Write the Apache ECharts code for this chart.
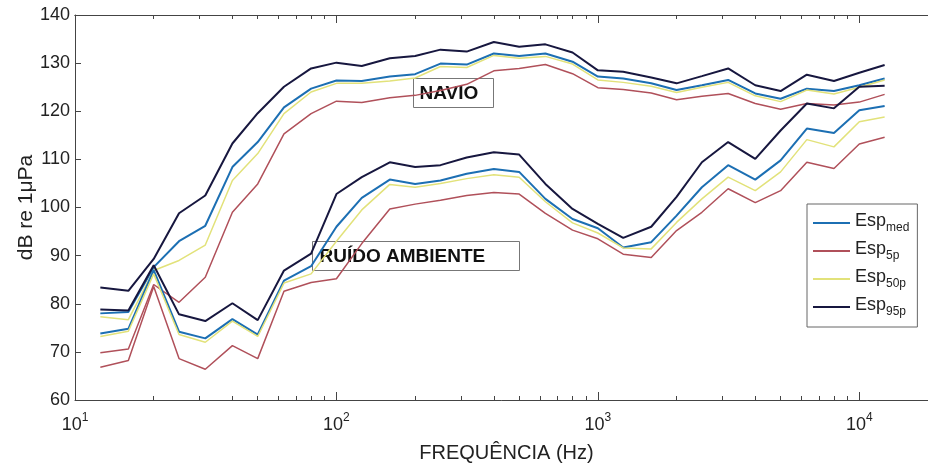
<!DOCTYPE html>
<html>
<head>
<meta charset="utf-8">
<script src="https://cdn.jsdelivr.net/npm/echarts@6/dist/echarts.min.js"></script>
<style>
  html, body { margin: 0; background: #fff; }
  #chart { width: 928px; height: 466px; }
</style>
</head>
<body>
<div id="chart"></div>
<script>
// bandas de 1/3 de oitava (Hz)
const freqs = [12.5, 16, 20, 25, 31.5, 40, 50, 63, 80, 100, 125, 160, 200, 250, 315, 400,
  500, 630, 800, 1000, 1250, 1600, 2000, 2500, 3150, 4000, 5000, 6300, 8000, 10000, 12500];

// NAVIO
const navioMed = [78.0, 78.3, 87.6, 93.0, 96.2, 108.4, 113.6, 120.8, 124.7, 126.4, 126.3, 127.2, 127.7, 129.9, 129.7, 132.0,
  131.5, 132.0, 130.3, 127.2, 126.8, 125.8, 124.4, 125.4, 126.5, 123.7, 122.6, 124.7, 124.2, 125.4, 126.8];
const navio5p = [69.8, 70.6, 84.0, 80.3, 85.5, 99.0, 104.9, 115.3, 119.5, 122.1, 121.8, 122.8, 123.3, 124.3, 125.6, 128.4,
  128.9, 129.7, 127.8, 124.9, 124.5, 123.8, 122.4, 123.1, 123.7, 121.6, 120.4, 121.6, 121.3, 121.9, 123.5];
const navio50p = [77.3, 76.7, 86.9, 89.0, 92.2, 105.6, 111.2, 119.5, 124.0, 125.8, 125.8, 126.3, 126.9, 129.3, 129.1, 131.6,
  131.0, 131.4, 129.8, 126.5, 126.0, 125.2, 123.9, 125.0, 126.0, 123.2, 122.0, 124.4, 123.6, 125.0, 126.5];
const navio95p = [83.4, 82.7, 89.3, 98.8, 102.5, 113.3, 119.6, 125.1, 128.9, 130.1, 129.4, 131.0, 131.5, 132.8, 132.4, 134.4,
  133.4, 133.9, 132.2, 128.5, 128.2, 127.0, 125.8, 127.3, 128.9, 125.4, 124.2, 127.6, 126.3, 128.0, 129.6];

// RUIDO AMBIENTE
const ambMed = [73.8, 74.8, 87.0, 74.2, 72.8, 76.8, 73.6, 84.8, 87.8, 96.0, 102.0, 105.8, 104.9, 105.6, 107.0, 108.0,
  107.4, 101.8, 97.6, 95.7, 91.7, 92.8, 98.3, 104.2, 108.8, 105.8, 109.8, 116.4, 115.5, 120.2, 121.1];
const amb5p = [66.8, 68.2, 83.6, 68.6, 66.4, 71.3, 68.6, 82.6, 84.4, 85.2, 92.5, 99.7, 100.7, 101.5, 102.5, 103.1,
  102.8, 98.8, 95.3, 93.5, 90.3, 89.6, 95.2, 99.0, 103.9, 101.0, 103.5, 109.4, 108.1, 113.2, 114.6];
const amb50p = [73.2, 74.3, 86.2, 73.6, 72.0, 76.4, 73.2, 84.3, 86.2, 93.0, 99.5, 104.8, 104.2, 105.0, 106.0, 106.8,
  106.3, 101.2, 96.8, 94.7, 91.6, 91.4, 96.9, 101.8, 106.3, 103.5, 107.4, 114.1, 112.6, 117.8, 118.8];
const amb95p = [78.8, 78.6, 88.0, 77.8, 76.4, 80.1, 76.6, 86.9, 90.4, 102.8, 106.3, 109.4, 108.4, 108.8, 110.4, 111.5,
  111.0, 104.9, 99.7, 96.6, 93.7, 96.0, 102.2, 109.4, 113.6, 110.1, 116.0, 121.6, 120.6, 125.1, 125.3];

// ticks
const majorTicks = [10, 100, 1000, 10000];
const minorTicks = [20, 30, 40, 50, 60, 70, 80, 90, 200, 300, 400, 500, 600, 700, 800, 900,
  2000, 3000, 4000, 5000, 6000, 7000, 8000, 9000, 20000];

const legendNames = ['med', '5p', '50p', '95p'];
const colors = { med: '#1c6fb3', '5p': '#b0505a', '50p': '#e2e27a', '95p': '#17173f' };
const widths = { med: 2, '5p': 1.5, '50p': 1.5, '95p': 2 };

const groups = [
  { med: navioMed, '5p': navio5p, '50p': navio50p, '95p': navio95p },
  { med: ambMed, '5p': amb5p, '50p': amb50p, '95p': amb95p }
];

const series = []
groups.forEach(g => {
  legendNames.forEach(name => {
    series.push({
      name,
      type: 'line',
      xAxisIndex: 0,
      symbol: 'none',
      data: freqs.map((f, i) => [f, g[name][i]]),
      lineStyle: { color: colors[name], width: widths[name] },
      itemStyle: { color: colors[name] }
    })
  })
})

const axisColor = '#444'
const font = 'Liberation Sans, Arial, sans-serif'

// eixo log extra (so ticks)
function tickAxis(position, values, len) {
  return {
    type: 'log', logBase: 10, min: 10, max: 20000, position,
    axisLine: { show: position === 'top', lineStyle: { color: axisColor } },
    axisTick: { show: true, inside: true, length: len, customValues: values, lineStyle: { color: axisColor } },
    axisLabel: { show: false },
    splitLine: { show: false }
  }
}

const chart = echarts.init(document.getElementById('chart'))

chart.setOption({
  animation: false,
  backgroundColor: '#fff',
  grid: { left: 75, top: 15, bottom: 66, right: -10, containLabel: false, outerBoundsMode: 'none' },
  xAxis: [
    {
      type: 'log', logBase: 10, min: 10, max: 20000,
      name: 'FREQUÊNCIA (Hz)',
      nameLocation: 'middle',
      nameGap: 43,
      nameTextStyle: { fontSize: 20, color: '#222', fontFamily: font },
      axisLine: { lineStyle: { color: axisColor } },
      axisTick: { inside: true, length: 8, customValues: majorTicks, lineStyle: { color: axisColor } },
      axisLabel: {
        customValues: majorTicks,
        margin: 12,
        formatter: v => '{b|10}{p|' + Math.round(Math.log10(v)) + '}',
        rich: {
          b: { fontSize: 18, color: '#222', fontFamily: font, verticalAlign: 'bottom', lineHeight: 22 },
          p: { fontSize: 12, color: '#222', fontFamily: font, verticalAlign: 'top', lineHeight: 12 }
        }
      },
      splitLine: { show: false }
    },
    tickAxis('bottom', minorTicks, 4),
    tickAxis('top', majorTicks, 8),
    tickAxis('top', minorTicks, 4)
  ],
  yAxis: {
    type: 'value', min: 60, max: 140, interval: 10,
    name: 'dB re 1\u03bcPa',
    nameLocation: 'middle',
    nameGap: 38,
    nameMoveOverlap: false,
    nameTextStyle: { fontSize: 21, color: '#222', fontFamily: font },
    axisLine: { show: true, lineStyle: { color: axisColor } },
    axisTick: { inside: true, length: 6, lineStyle: { color: axisColor } },
    axisLabel: { fontSize: 18, color: '#222', fontFamily: font, margin: 5 },
    splitLine: { show: false }
  },
  legend: {
    data: legendNames,
    orient: 'vertical',
    left: 807,
    top: 204,
    padding: [8, 8, 9, 6],
    itemGap: 6,
    icon: 'rect',
    itemWidth: 37,
    itemHeight: 2,
    backgroundColor: '#fff',
    borderColor: '#666',
    borderWidth: 1,
    borderRadius: 0,
    formatter: name => '{m|Esp}{s|' + name + '}',
    textStyle: {
      rich: {
        m: { fontSize: 18, color: '#222', fontFamily: font, lineHeight: 22, verticalAlign: 'top' },
        s: { fontSize: 12, color: '#222', fontFamily: font, lineHeight: 12, verticalAlign: 'bottom' }
      }
    }
  },
  graphic: [
    {
      type: 'group', left: 413, top: 78,
      children: [
        { type: 'rect', shape: { x: 0, y: 0, width: 80, height: 29 }, style: { fill: 'transparent', stroke: '#777', lineWidth: 1 } },
        { type: 'text', x: 6, y: 15, style: { text: 'NAVIO', fontSize: 19, fontWeight: 'bold', fontFamily: font, fill: '#111', verticalAlign: 'middle' } }
      ]
    },
    {
      type: 'group', left: 312, top: 241,
      children: [
        { type: 'rect', shape: { x: 0, y: 0, width: 207, height: 29 }, style: { fill: 'transparent', stroke: '#777', lineWidth: 1 } },
        { type: 'text', x: 7, y: 15, style: { text: 'RUÍDO AMBIENTE', fontSize: 19, fontWeight: 'bold', fontFamily: font, fill: '#111', verticalAlign: 'middle' } }
      ]
    }
  ],
  series
})
</script>
</body>
</html>
